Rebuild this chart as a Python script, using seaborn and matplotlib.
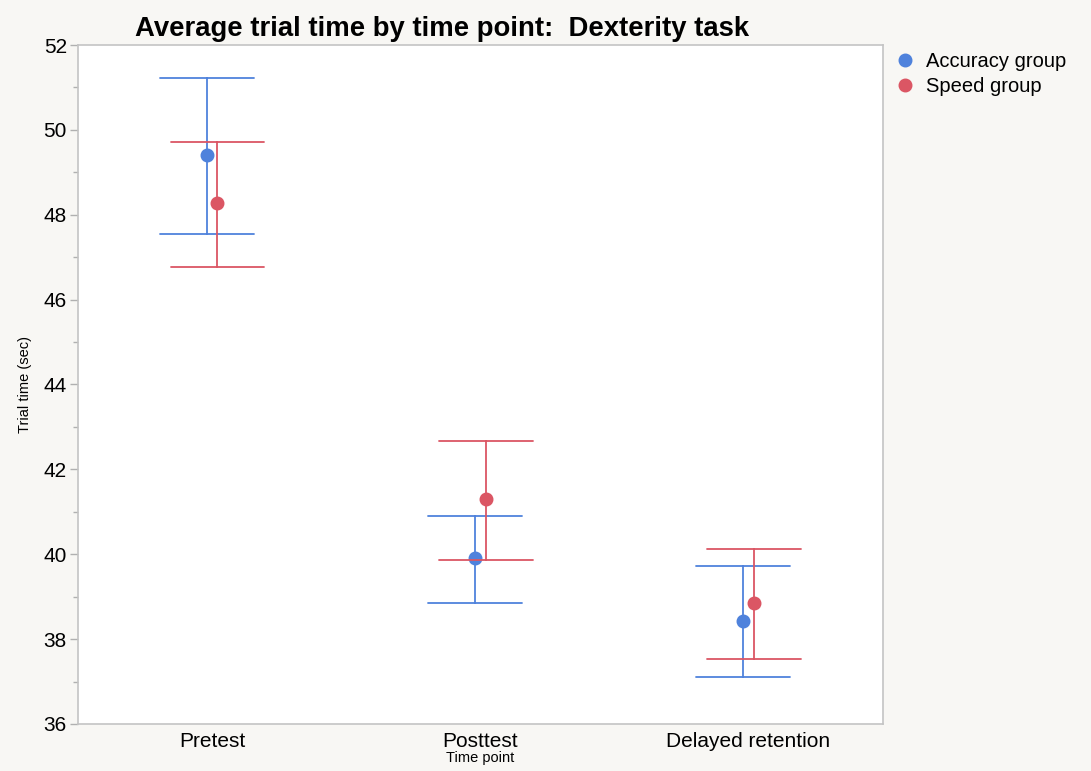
import pandas as pd
import matplotlib.pyplot as plt
import seaborn as sns
from matplotlib.ticker import MultipleLocator

# values: mean and the two error bar ends
time_points = ["Pretest", "Posttest", "Delayed retention"]
groups = ["Accuracy group", "Speed group"]
acc_mean = [49.41, 39.91, 38.43]
acc_low = [47.55, 38.85, 37.11]
acc_high = [51.22, 40.90, 39.72]
spd_mean = [48.28, 41.30, 38.85]
spd_low = [46.77, 39.87, 37.53]
spd_high = [49.71, 42.67, 40.12]

# long table: low / mean / high rows, so median = mean and min/max = bar ends
rows = []
for g, m, lo, hi in [(groups[0], acc_mean, acc_low, acc_high),
                     (groups[1], spd_mean, spd_low, spd_high)]:
    for tp, a, b, c in zip(time_points, lo, m, hi):
        for v in (a, b, c):
            rows.append({"Time point": tp, "group": g, "time": v})
df = pd.DataFrame(rows)

sns.set_theme(style="white")
plt.rcParams['font.family'] = ['Liberation Sans', 'DejaVu Sans']
plt.rcParams['text.color'] = 'black'
plt.rcParams['axes.labelcolor'] = 'black'
plt.rcParams['xtick.color'] = 'black'
plt.rcParams['ytick.color'] = 'black'

fig = plt.figure(figsize=(10.91, 7.71), dpi=100, facecolor="#f8f7f4")
ax = fig.add_axes([0.0715, 0.061, 0.7375, 0.8806])
ax.set_facecolor("white")

palette = {"Accuracy group": "#4f82dc", "Speed group": "#db5664"}
sns.pointplot(data=df, x="Time point", y="time", hue="group", order=time_points,
              hue_order=groups, palette=palette, estimator="median",
              errorbar=lambda x: (x.min(), x.max()), dodge=0.04,
              linestyle="none", capsize=0.35, markersize=8,
              err_kws={"linewidth": 1.3}, ax=ax)

ax.set_xlim(-0.5, 2.5)
ax.set_ylim(36, 52)
ax.yaxis.set_major_locator(MultipleLocator(2))
ax.yaxis.set_minor_locator(MultipleLocator(1))
ax.tick_params(axis="y", which="major", left=True, length=6, width=1, color="#b0b0b0", labelsize=15, pad=2)
ax.tick_params(axis="y", which="minor", left=True, length=3.5, width=1, color="#b0b0b0")
ax.tick_params(axis="x", bottom=False, labelsize=15, pad=0)
for s in ax.spines.values():
    s.set_color("#c4c4c4")
    s.set_linewidth(1.2)

ax.set_ylabel("Trial time (sec)", fontsize=10.5, labelpad=8)
ax.set_xlabel("Time point", fontsize=10.5, labelpad=0)

fig.text(0.405, 0.963, "Average trial time by time point:  Dexterity task",
         ha="center", va="center", fontsize=19.8, fontweight="bold")

leg = ax.legend(loc="upper left", bbox_to_anchor=(0.99, 1.005), frameon=False,
                fontsize=14.5, handletextpad=0.05, labelspacing=0.3, borderaxespad=0.1)

plt.savefig("out.png", dpi=100, facecolor=fig.get_facecolor())
